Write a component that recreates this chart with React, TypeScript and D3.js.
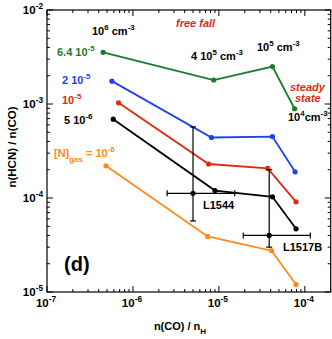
import React from 'react'
import * as d3 from 'd3'

// x = n(CO)/nH, one point per density: 1e6, 4e5, 1e5, 1e4 cm-3
const xGreen = [4.5e-7, 8.7e-6, 4.2e-5, 7.6e-5]
const yGreen = [3.55e-3, 1.8e-3, 2.5e-3, 8.9e-4]
const xBlue = [5.7e-7, 8.2e-6, 4.2e-5, 7.7e-5]
const yBlue = [1.75e-3, 4.4e-4, 4.5e-4, 1.9e-4]
const xRed = [6.8e-7, 7.6e-6, 3.7e-5, 7.9e-5]
const yRed = [1.03e-3, 2.3e-4, 2.07e-4, 9.1e-5]
const xBlack = [5.9e-7, 9.0e-6, 4.2e-5, 7.9e-5]
const yBlack = [6.9e-4, 1.2e-4, 1.03e-4, 4.7e-5]
const xOrange = [4.85e-7, 7.4e-6, 4.1e-5, 7.9e-5]
const yOrange = [2.2e-4, 3.9e-5, 2.75e-5, 1.2e-5]

// observations
const obsNames = ['L1544', 'L1517B']
const obsX = [5.0e-6, 3.85e-5]
const obsXlo = [2.5e-6, 1.92e-5]
const obsXhi = [1.53e-5, 1.16e-4]
const obsY = [1.12e-4, 4.0e-5]
const obsYlo = [5.7e-5, 3.0e-5]
const obsYhi = [5.7e-4, 2.0e-4]

const xTickExp = [-7, -6, -5, -4]
const yTickExp = [-5, -4, -3, -2]

const series = [
  {xs: xGreen, ys: yGreen, color: '#1b7a2c'},
  {xs: xBlue, ys: yBlue, color: '#1f3ff5'},
  {xs: xRed, ys: yRed, color: '#de2a10'},
  {xs: xBlack, ys: yBlack, color: '#000000'},
  {xs: xOrange, ys: yOrange, color: '#ff8a1c'},
]

const W = 332
const H = 339
const left = 47
const right = 330.7
const top = 10
const bottom = 292
const font = 'Liberation Sans, Arial, sans-serif'

const Pow = ({base, exp}: {base: string; exp: string}) => (
  <>
    <tspan>{base}</tspan>
    <tspan dy={-5} fontSize="0.72em">{exp}</tspan>
    <tspan dy={5}> </tspan>
  </>
)

export default function App() {
  const x = d3.scaleLog().domain([1e-7, 2e-4]).range([left, right])
  const y = d3.scaleLog().domain([1e-5, 1e-2]).range([bottom, top])
  const line = d3
    .line<number[]>()
    .x((d) => x(d[0]))
    .y((d) => y(d[1]))

  const isMinor = (t: number) => Math.abs(Math.log10(t) - Math.round(Math.log10(t))) > 1e-6
  const xMinor = x.ticks().filter(isMinor)
  const yMinor = y.ticks().filter(isMinor)

  return (
    <svg width={W} height={H} style={{position: 'absolute', left: 0, top: 0}} fontFamily={font}>
      <rect x={0} y={0} width={W} height={H} fill="#fff" />
      {/* frame */}
      <rect x={left} y={top} width={right - left} height={bottom - top} fill="none" stroke="#000" strokeWidth={1.2} />

      {/* x ticks, bottom and top */}
      {xTickExp.map((e) => (
        <g key={'xt' + e}>
          <line x1={x(10 ** e)} x2={x(10 ** e)} y1={bottom} y2={bottom - 6} stroke="#000" />
          <line x1={x(10 ** e)} x2={x(10 ** e)} y1={top} y2={top + 6} stroke="#000" />
          <text x={x(10 ** e) - 1} y={307} textAnchor="middle" fontSize={11.5} fontWeight="bold">
            <Pow base="10" exp={String(e)} />
          </text>
        </g>
      ))}
      {xMinor.map((t, i) => (
        <g key={'xm' + i}>
          <line x1={x(t)} x2={x(t)} y1={bottom} y2={bottom - 3} stroke="#000" />
          <line x1={x(t)} x2={x(t)} y1={top} y2={top + 3} stroke="#000" />
        </g>
      ))}

      {/* y ticks, left and right */}
      {yTickExp.map((e) => (
        <g key={'yt' + e}>
          <line x1={left} x2={left + 6} y1={y(10 ** e)} y2={y(10 ** e)} stroke="#000" />
          <line x1={right} x2={right - 6} y1={y(10 ** e)} y2={y(10 ** e)} stroke="#000" />
          <text x={43} y={y(10 ** e) + 4} textAnchor="end" fontSize={11.5} fontWeight="bold">
            <Pow base="10" exp={String(e)} />
          </text>
        </g>
      ))}
      {yMinor.map((t, i) => (
        <g key={'ym' + i}>
          <line x1={left} x2={left + 3} y1={y(t)} y2={y(t)} stroke="#000" />
          <line x1={right} x2={right - 3} y1={y(t)} y2={y(t)} stroke="#000" />
        </g>
      ))}

      {/* axis titles */}
      <text x={180} y={330} textAnchor="middle" fontSize={11} fontWeight="bold">
        n(CO) / n<tspan dy={4} fontSize={8}>H</tspan>
      </text>
      <text transform="translate(16,147) rotate(-90)" textAnchor="middle" fontSize={11.5} fontWeight="bold">
        n(HCN) / n(CO)
      </text>

      {/* model curves */}
      {series.map((s, i) => {
        const pts = s.xs.map((v, j) => [v, s.ys[j]])
        return (
          <g key={'s' + i}>
            <path d={line(pts) || ''} fill="none" stroke={s.color} strokeWidth={1.8} />
            {pts.map((p, j) => (
              <circle key={j} cx={x(p[0])} cy={y(p[1])} r={2.6} fill={s.color} />
            ))}
          </g>
        )
      })}

      {/* observations */}
      {obsNames.map((n, i) => {
        const cx = x(obsX[i])
        const cy = y(obsY[i])
        const x0 = x(obsXlo[i])
        const x1 = x(obsXhi[i])
        const y0 = y(obsYlo[i])
        const y1 = y(obsYhi[i])
        return (
          <g key={n} stroke="#000" strokeWidth={1.2}>
            <line x1={x0} x2={x1} y1={cy} y2={cy} />
            <line x1={x0} x2={x0} y1={cy - 3} y2={cy + 3} />
            <line x1={x1} x2={x1} y1={cy - 3} y2={cy + 3} />
            <line x1={cx} x2={cx} y1={y0} y2={y1} />
            <line x1={cx - 3} x2={cx + 3} y1={y0} y2={y0} />
            <line x1={cx - 3} x2={cx + 3} y1={y1} y2={y1} />
            <circle cx={cx} cy={cy} r={2.6} fill="#000" stroke="none" />
          </g>
        )
      })}
      <text x={203} y={209} fontSize={11} fontWeight="bold">L1544</text>
      <text x={283} y={251} fontSize={11} fontWeight="bold">L1517B</text>

      {/* annotations */}
      <g fontSize={11} fontWeight="bold">
        <text x={92} y={35}>
          <Pow base="10" exp="6" />cm<tspan dy={-5} fontSize="0.72em">-3</tspan>
        </text>
        <text x={191} y={60}>
          4 <Pow base="10" exp="5" />cm<tspan dy={-5} fontSize="0.72em">-3</tspan>
        </text>
        <text x={257} y={51}>
          <Pow base="10" exp="5" />cm<tspan dy={-5} fontSize="0.72em">-3</tspan>
        </text>
        <text x={288} y={121}>
          10<tspan dy={-5} fontSize="0.72em">4</tspan>
          <tspan dy={5}>cm</tspan>
          <tspan dy={-5} fontSize="0.72em">-3</tspan>
        </text>
        <text x={57} y={56} fill="#1b7a2c">
          6.4 <Pow base="10" exp="-5" />
        </text>
        <text x={62} y={84} fill="#1f3ff5">
          2 <Pow base="10" exp="-5" />
        </text>
        <text x={62} y={104} fill="#de2a10">
          <Pow base="10" exp="-5" />
        </text>
        <text x={64} y={124} fill="#000">
          5 <Pow base="10" exp="-6" />
        </text>
        <text x={54} y={157} fill="#ff8a1c">
          [N]<tspan dy={5} fontSize="0.72em">gas</tspan>
          <tspan dy={-5}> = 10</tspan>
          <tspan dy={-5} fontSize="0.72em">-6</tspan>
        </text>
        <text x={176} y={27} fill="#de2a10" fontStyle="italic">free fall</text>
        <text x={290} y={91} fill="#de2a10" fontStyle="italic">steady</text>
        <text x={295} y={102} fill="#de2a10" fontStyle="italic">state</text>
        <text x={64} y={271} fontSize={20}>(d)</text>
      </g>
    </svg>
  )
}
